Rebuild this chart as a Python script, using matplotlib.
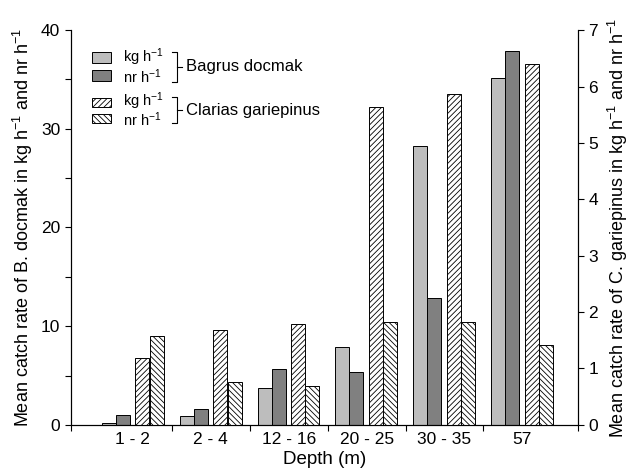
import numpy as np
import matplotlib
matplotlib.use("Agg")
import matplotlib.pyplot as plt
from matplotlib.patches import Rectangle

plt.rcParams['font.family'] = ['Liberation Sans', 'DejaVu Sans']
plt.rcParams['mathtext.default'] = 'regular'
plt.rcParams['hatch.linewidth'] = 0.6

depths = ['1 - 2', '2 - 4', '12 - 16', '20 - 25', '30 - 35', '57']
# Bagrus docmak (left axis)
bagrus_kg = [0.2, 0.9, 3.7, 7.9, 28.3, 35.1]
bagrus_nr = [1.0, 1.6, 5.7, 5.4, 12.9, 37.9]
# Clarias gariepinus (right axis)
clarias_kg = [1.19, 1.68, 1.78, 5.64, 5.86, 6.40]
clarias_nr = [1.57, 0.76, 0.68, 1.82, 1.83, 1.42]

x = np.arange(len(depths))
w = 0.18
xmin, xmax = -0.8, 5.71

fig = plt.figure(figsize=(6.3, 4.71), dpi=100)
ax = fig.add_axes([0.112, 0.098, 0.805, 0.838])
ax2 = ax.twinx()

ax.bar(x - 0.31, bagrus_kg, w, color='#bdbdbd', edgecolor='black', linewidth=0.7)
ax.bar(x - 0.13, bagrus_nr, w, color='#808080', edgecolor='black', linewidth=0.7)
ax2.bar(x + 0.12, clarias_kg, w, color='white', edgecolor='black', linewidth=0.7, hatch='//////')
ax2.bar(x + 0.305, clarias_nr, w, color='white', edgecolor='black', linewidth=0.7, hatch='\\\\\\\\\\\\')

ax.set_xlim(xmin, xmax)
ax.set_ylim(0, 40)
ax2.set_ylim(0, 7)

# group boundaries as major ticks (plus both axis ends), labels centred on groups
ax.set_xticks([xmin] + list(x[:-1] + 0.5) + [xmax])
ax.set_xticklabels([])
ax.set_xticks(x, labels=depths, minor=True)
ax.tick_params(axis='x', which='minor', length=0, labelsize=12.5, pad=5)
ax.tick_params(axis='x', which='major', length=4, width=0.8)

ax.set_yticks([0, 10, 20, 30, 40])
ax.set_yticks([5, 15, 25, 35], minor=True)
ax.tick_params(axis='y', which='both', length=4, width=0.8, labelsize=12.5)
ax2.set_yticks(range(8))
ax2.tick_params(axis='y', length=4, width=0.8, labelsize=12.5)

for a in (ax, ax2):
    a.spines['top'].set_visible(False)
    for s in ('left', 'right', 'bottom'):
        a.spines[s].set_linewidth(0.8)

ax.set_xlabel('Depth (m)', fontsize=13.5, labelpad=3)
ax.set_ylabel('Mean catch rate of B. docmak in kg h$^{-1}$ and nr h$^{-1}$', fontsize=13, labelpad=4)
ax2.set_ylabel('Mean catch rate of C. gariepinus in kg h$^{-1}$ and nr h$^{-1}$', fontsize=13, labelpad=6)

# hand-made legend in pixel coordinates
H = 471.0
def px(xp, yp):
    return xp / 630.0, 1 - yp / H

# (box top, box bottom, face, hatch, label, label centre y)
legend_rows = [
    (52, 63, '#bdbdbd', None, 'kg h$^{-1}$', 57),
    (70, 81, '#808080', None, 'nr h$^{-1}$', 77),
    (98, 107, 'white', '//////', 'kg h$^{-1}$', 101),
    (114, 123, 'white', '\\\\\\\\\\\\', 'nr h$^{-1}$', 120),
]
for y0, y1, fc, hatch, label, ly in legend_rows:
    x0, yb = px(92, y1)
    r = Rectangle((x0, yb), 19 / 630.0, (y1 - y0) / H, transform=fig.transFigure,
                  facecolor=fc, edgecolor='black', linewidth=0.7, hatch=hatch)
    fig.add_artist(r)
    tx, ty = px(123, ly)
    fig.text(tx, ty, label, fontsize=10.5, va='center', ha='left')

for y0, y1, name in [(52, 82, 'Bagrus docmak'), (97, 123, 'Clarias gariepinus')]:
    xs = [172, 177, 177, 172]
    ys = [y0, y0, y1, y1]
    fig.add_artist(plt.Line2D([v / 630.0 for v in xs], [1 - v / H for v in ys],
                              color='black', linewidth=0.8, transform=fig.transFigure))
    ym = (y0 + y1) / 2
    fig.add_artist(plt.Line2D([177 / 630.0, 182 / 630.0], [1 - ym / H] * 2,
                              color='black', linewidth=0.8, transform=fig.transFigure))
    tx, ty = px(186, ym)
    fig.text(tx, ty, name, fontsize=12, va='center', ha='left')

fig.savefig('out.png', dpi=100)
